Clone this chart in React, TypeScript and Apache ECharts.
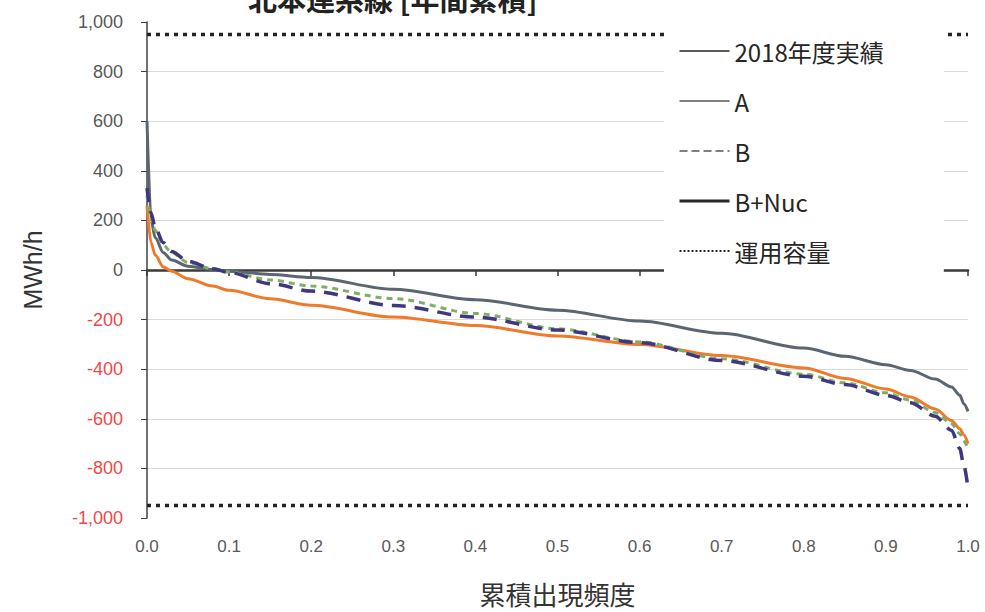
import React, { useEffect, useRef } from "react";
import * as echarts from "echarts";

const freq = [0, 0.005, 0.01, 0.02, 0.03, 0.05, 0.08, 0.1, 0.15, 0.2, 0.3, 0.4, 0.5, 0.6, 0.7, 0.8, 0.85, 0.9, 0.93, 0.96, 0.98, 0.99, 0.995, 1.0];
const actual2018 = [600, 200, 130, 70, 40, 15, 2, -5, -18, -30, -78, -120, -162, -206, -255, -315, -348, -382, -405, -440, -472, -505, -540, -570];
const caseA = [260, 110, 60, 12, -5, -35, -65, -82, -116, -142, -190, -224, -266, -300, -345, -395, -437, -480, -512, -560, -607, -640, -665, -700];
const caseB = [300, 210, 160, 100, 70, 30, 5, -8, -40, -65, -115, -175, -237, -290, -358, -420, -455, -495, -525, -575, -620, -660, -690, -720];
const caseBNuc = [330, 230, 170, 110, 75, 35, 5, -10, -55, -85, -143, -190, -242, -293, -365, -428, -462, -505, -535, -590, -647, -720, -790, -880];
const capacity = [950, -950];
const seriesNames = ["2018年度実績", "A", "B", "B+Nuc", "運用容量"];
const xTicks = ["0.0", "0.1", "0.2", "0.3", "0.4", "0.5", "0.6", "0.7", "0.8", "0.9", "1.0"];
const titleText = "北本連系線 [年間累積]";
const xName = "累積出現頻度";
const yName = "MWh/h";

const pair = (vals: number[]) => freq.map((f, i) => [f, vals[i]]);

export default function App() {
  const ref = useRef<HTMLDivElement>(null);
  useEffect(() => {
    if (!ref.current) return;
    const chart = echarts.init(ref.current, null, { renderer: "svg" });
    const numFont = "'Liberation Sans', 'Noto Sans CJK JP', sans-serif";
    const cjkFont = "'Noto Sans CJK JP', 'Liberation Sans', sans-serif";
    const lineCommon = { type: "line", symbol: "none", smooth: 0.3, smoothMonotone: "x", z: 3 };
    chart.setOption({
      animation: false,
      backgroundColor: "#ffffff",
      graphic: [
        {
          type: "text",
          left: 248,
          top: -17,
          style: { text: titleText, fontSize: 29, fontFamily: cjkFont, fontWeight: "bold", fill: "#222" },
        },
      ],
      grid: { left: 147, right: 17, top: 22, bottom: 94, containLabel: false },
      legend: {
        orient: "vertical",
        left: 664,
        top: 26,
        z: 10,
        backgroundColor: "#ffffff",
        padding: [12, 60, 12, 14],
        itemWidth: 50,
        itemHeight: 14,
        itemGap: 24,
        itemStyle: { opacity: 0 },
        textStyle: { fontSize: 24, fontFamily: cjkFont, color: "#262626", lineHeight: 26 },
        data: [
          { name: seriesNames[0], lineStyle: { color: "#5a5a5a", width: 2, type: "solid", opacity: 1 } },
          { name: seriesNames[1], lineStyle: { color: "#7f7f7f", width: 2, type: "solid", opacity: 1 } },
          { name: seriesNames[2], lineStyle: { color: "#7f7f7f", width: 2, type: [8, 4], opacity: 1 } },
          { name: seriesNames[3], lineStyle: { color: "#262626", width: 3, type: "solid", opacity: 1 } },
          { name: seriesNames[4], lineStyle: { color: "#262626", width: 2, type: [2, 2], opacity: 1 } },
        ],
      },
      xAxis: [
        {
          type: "value",
          min: 0,
          max: 1,
          interval: 0.1,
          position: "bottom",
          name: xName,
          nameLocation: "middle",
          nameGap: 62,
          nameTextStyle: { fontSize: 26, fontFamily: cjkFont, color: "#333" },
          axisLine: { show: false, onZero: false },
          axisTick: { show: false },
          splitLine: { show: false },
          axisLabel: {
            margin: 20,
            fontSize: 17,
            fontFamily: numFont,
            color: "#595959",
            formatter: (v: number) => xTicks[Math.round(v * 10)] ?? v.toFixed(1),
          },
        },
        {
          type: "value",
          min: 0,
          max: 1,
          interval: 0.1,
          position: "top",
          axisLine: { show: true, onZero: true, lineStyle: { color: "#3a3a3a", width: 2.5 } },
          axisTick: { show: true, inside: true, length: 6, lineStyle: { color: "#3a3a3a", width: 1.5 } },
          axisLabel: { show: false },
          splitLine: { show: false },
        },
      ],
      yAxis: {
        type: "value",
        min: -1000,
        max: 1000,
        interval: 200,
        name: yName,
        nameLocation: "middle",
        nameGap: 102,
        nameTextStyle: { fontSize: 25, fontFamily: numFont, color: "#333" },
        axisLine: { show: true, onZero: false, lineStyle: { color: "#404040", width: 1.5 } },
        axisTick: { show: true, length: 6, lineStyle: { color: "#404040" } },
        splitLine: { show: true, showMinLine: false, showMaxLine: false, lineStyle: { color: "#d9d9d9", width: 1.2 } },
        axisLabel: {
          margin: 24,
          fontSize: 18,
          fontFamily: numFont,
          formatter: (v: number) => v.toLocaleString("en-US"),
          color: (v: any) => (Number(v) < 0 ? "#f04848" : "#595959"),
        },
      },
      series: [
        { ...lineCommon, name: seriesNames[0], data: pair(actual2018), lineStyle: { color: "#5b6670", width: 3 }, itemStyle: { color: "#5b6670" } },
        { ...lineCommon, name: seriesNames[1], data: pair(caseA), lineStyle: { color: "#ef7a2c", width: 3 }, itemStyle: { color: "#ef7a2c" } },
        { ...lineCommon, name: seriesNames[2], data: pair(caseB), lineStyle: { color: "#7fae68", width: 3, type: [6, 5] }, itemStyle: { color: "#7fae68" } },
        { ...lineCommon, name: seriesNames[3], data: pair(caseBNuc), lineStyle: { color: "#3e3880", width: 3.5, type: [14, 9] }, itemStyle: { color: "#3e3880" } },
        {
          type: "line",
          name: seriesNames[4],
          symbol: "none",
          z: 2,
          data: [[0, capacity[0]], [1, capacity[0]], [1, "-"], [0, capacity[1]], [1, capacity[1]]],
          lineStyle: { color: "#222", width: 3.5, type: [4, 5] },
          itemStyle: { color: "#222" },
        },
      ],
    });
    return () => chart.dispose();
  }, []);
  return <div ref={ref} style={{ width: 985, height: 612, position: "absolute", left: 0, top: 0 }} />;
}
